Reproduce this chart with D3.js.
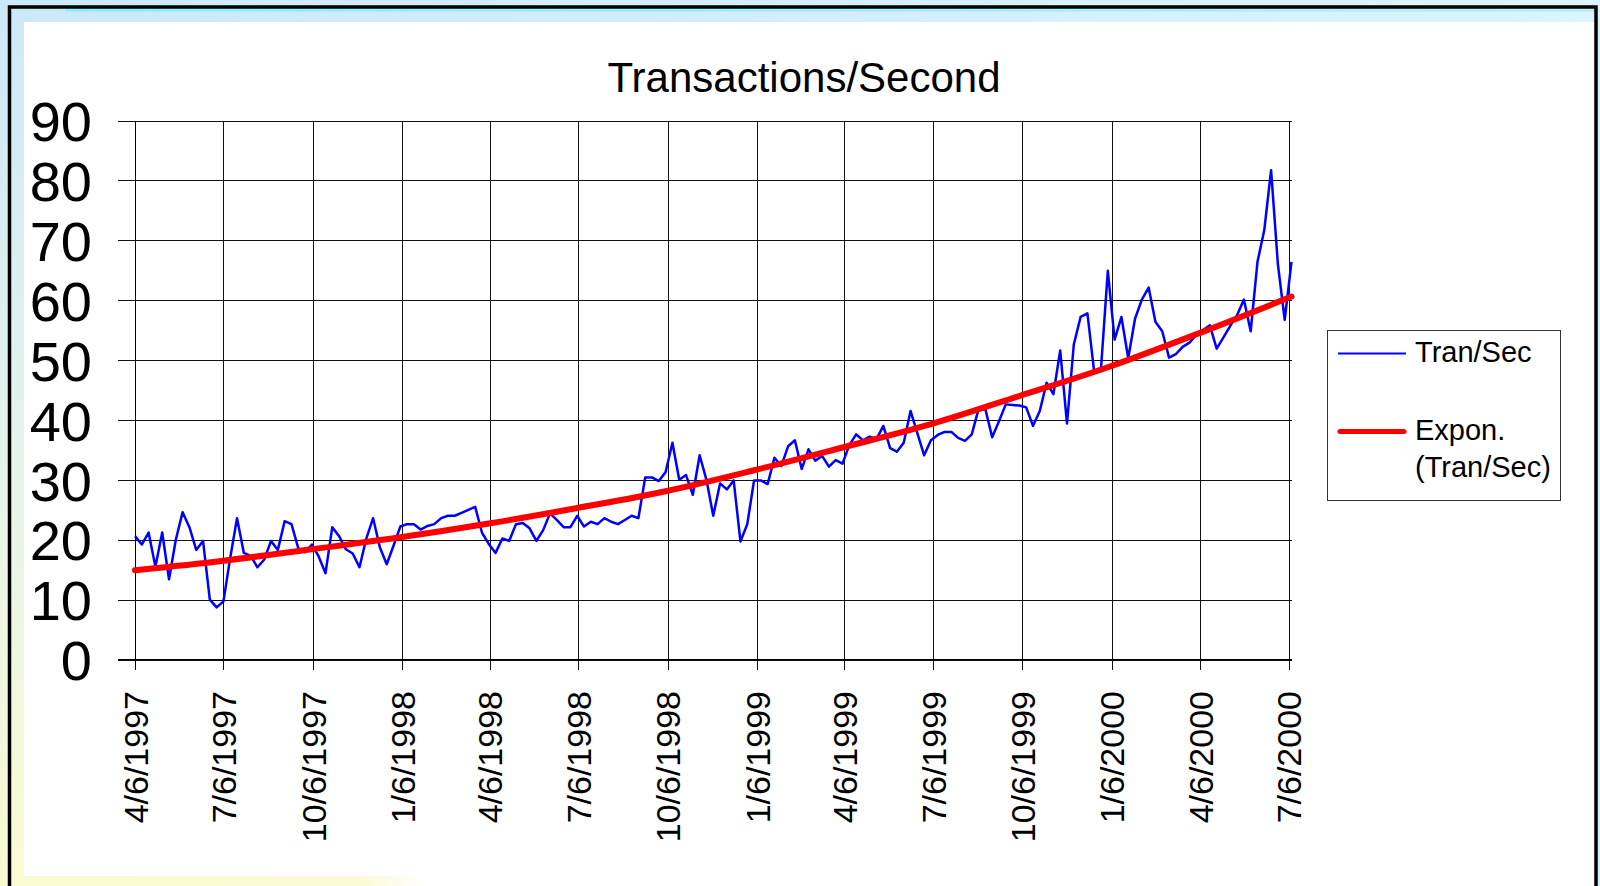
<!DOCTYPE html>
<html>
<head>
<meta charset="utf-8">
<script src="https://cdn.jsdelivr.net/npm/d3@7"></script>
<style>
  html, body { margin: 0; padding: 0; background: #fff; }
  svg { display: block; font-family: 'Liberation Sans', Arial, sans-serif; }
</style>
</head>
<body>
<script>
// weekly samples, first week 4/6/1997
var startLabel = '4/6/1997';
var tranSec = [
  20.6, 19.2, 21.2, 15.5, 21.2, 13.4, 20.0, 24.6, 22.1, 18.3,
  19.8, 10.0, 8.7, 9.7, 17.0, 23.6, 17.8, 17.3, 15.4, 16.7,
  19.8, 18.3, 23.1, 22.6, 18.6, 17.9, 19.2, 17.2, 14.4, 22.1,
  20.6, 18.4, 17.7, 15.4, 20.2, 23.6, 18.7, 15.9, 19.0, 22.2,
  22.6, 22.6, 21.7, 22.3, 22.6, 23.6, 24.0, 24.0, 24.5, 25.0,
  25.5, 21.2, 19.3, 17.8, 20.2, 19.8, 22.6, 22.8, 21.9, 19.8,
  21.6, 24.4, 23.3, 22.1, 22.1, 24.0, 22.2, 23.0, 22.6, 23.6,
  23.0, 22.6, 23.3, 24.0, 23.6, 30.4, 30.4, 29.8, 31.3, 36.2,
  30.0, 30.8, 27.5, 34.1, 30.0, 24.0, 29.4, 28.4, 29.9, 19.7,
  22.6, 29.9, 29.9, 29.3, 33.7, 32.3, 35.6, 36.6, 31.8, 35.1,
  33.2, 34.0, 32.2, 33.3, 32.7, 35.8, 37.6, 36.6, 37.2, 36.8,
  39.0, 35.3, 34.7, 36.2, 41.5, 37.8, 34.1, 36.6, 37.5, 38.0,
  38.0, 37.0, 36.5, 37.6, 41.8, 41.8, 37.1, 39.8, 42.6, 42.5,
  42.4, 42.1, 39.0, 41.5, 46.2, 44.3, 51.6, 39.4, 52.6, 57.2,
  57.8, 48.0, 48.6, 64.9, 53.4, 57.2, 50.3, 56.9, 60.1, 62.1,
  56.4, 54.8, 50.4, 51.0, 52.2, 52.9, 54.2, 55.0, 55.8, 51.9,
  53.8, 55.7, 57.5, 60.1, 54.8, 66.4, 71.7, 81.7, 66.0, 56.7,
  66.4
];
// exponential trend line, read at every 13th week
var trendWeek = [0, 13, 26, 39, 52, 65, 78, 91, 104, 117, 130, 143, 156, 170];
var trendValue = [14.9, 16.5, 18.4, 20.4, 22.7, 25.3, 28.1, 31.6, 35.4, 39.3, 44.0, 48.8, 54.3, 60.6];
var tickLabels = ['4/6/1997', '7/6/1997', '10/6/1997', '1/6/1998', '4/6/1998', '7/6/1998',
  '10/6/1998', '1/6/1999', '4/6/1999', '7/6/1999', '10/6/1999', '1/6/2000', '4/6/2000', '7/6/2000'];
var yTicks = [0, 10, 20, 30, 40, 50, 60, 70, 80, 90];

var parse = d3.timeParse('%m/%d/%Y');
var start = parse(startLabel);
var weeks = d3.timeWeek.every(1).range(start, d3.timeWeek.offset(start, tranSec.length));
var tickDates = tickLabels.map(parse);

var W = 1600, H = 886;
var plotL = 135, plotR = 1291.5, plotT = 120.5, plotB = 659.5;

var svg = d3.select('body').append('svg').attr('width', W).attr('height', H);

// slide background
var defs = svg.append('defs');
var g1 = defs.append('linearGradient').attr('id', 'side').attr('x1', 0).attr('y1', 0).attr('x2', 0).attr('y2', 1);
g1.append('stop').attr('offset', '0%').attr('stop-color', '#cde8f9');
g1.append('stop').attr('offset', '55%').attr('stop-color', '#e6f4ea');
g1.append('stop').attr('offset', '100%').attr('stop-color', '#fbfbd2');
var g2 = defs.append('linearGradient').attr('id', 'topband').attr('x1', 0).attr('y1', 0).attr('x2', 1).attr('y2', 0);
g2.append('stop').attr('offset', '0%').attr('stop-color', '#cde8f9');
g2.append('stop').attr('offset', '100%').attr('stop-color', '#dcf4fb');
var g3 = defs.append('linearGradient').attr('id', 'cyan').attr('x1', 0).attr('y1', 0).attr('x2', 1).attr('y2', 0);
g3.append('stop').attr('offset', '0%').attr('stop-color', '#8ef0f8');
g3.append('stop').attr('offset', '100%').attr('stop-color', '#b8f2f8');
var g4 = defs.append('linearGradient').attr('id', 'botband').attr('x1', 0).attr('y1', 0).attr('x2', 1).attr('y2', 0);
g4.append('stop').attr('offset', '0%').attr('stop-color', '#fbfbd2');
g4.append('stop').attr('offset', '85%').attr('stop-color', '#fbfbd6');
g4.append('stop').attr('offset', '100%').attr('stop-color', '#ffffff');

svg.append('rect').attr('x', 0).attr('y', 0).attr('width', W).attr('height', H).attr('fill', '#fff');
svg.append('rect').attr('x', 0).attr('y', 0).attr('width', 24).attr('height', H).attr('fill', 'url(#side)');
svg.append('rect').attr('x', 0).attr('y', 0).attr('width', W).attr('height', 22).attr('fill', 'url(#topband)');
svg.append('rect').attr('x', 65).attr('y', 9).attr('width', W - 65).attr('height', 3).attr('fill', 'url(#cyan)');
svg.append('rect').attr('x', 1597).attr('y', 0).attr('width', 3).attr('height', H).attr('fill', '#d6f3fb');
svg.append('rect').attr('x', 24).attr('y', 22).attr('width', 1571).attr('height', 854).attr('fill', '#fff');
svg.append('rect').attr('x', 24).attr('y', 876).attr('width', 400).attr('height', 10).attr('fill', 'url(#botband)');
svg.append('path')
  .attr('d', 'M9.5,' + H + 'V7H1596V' + H)
  .attr('fill', 'none')
  .attr('stroke', '#000')
  .attr('stroke-width', 3.5);

var x = d3.scaleTime()
  .domain([start, weeks[weeks.length - 1]])
  .range([plotL, plotR]);
var y = d3.scaleLinear().domain([0, 90]).range([plotB, plotT]);

// horizontal grid + y ticks
var yAxis = svg.append('g')
  .attr('transform', 'translate(118,0)')
  .call(d3.axisLeft(y).tickValues(yTicks).tickSizeInner(-(plotR - 118)).tickSizeOuter(0).tickPadding(26));
yAxis.select('.domain').remove();
yAxis.selectAll('line').attr('stroke', '#111').attr('shape-rendering', 'crispEdges');
yAxis.selectAll('text')
  .attr('font-size', 56)
  .attr('font-family', "'Liberation Sans', Arial, sans-serif")
  .attr('fill', '#000')
  .attr('dy', '0.36em');

// vertical grid + x ticks
var xAxis = svg.append('g')
  .attr('transform', 'translate(0,' + (plotB + 10) + ')')
  .call(d3.axisBottom(x).tickValues(tickDates).tickFormat(d3.timeFormat('%-m/%-d/%Y'))
    .tickSizeInner(-(plotB + 10 - plotT)).tickSizeOuter(0).tickPadding(0));
xAxis.select('.domain').remove();
xAxis.selectAll('line').attr('stroke', '#111').attr('shape-rendering', 'crispEdges');
xAxis.selectAll('text')
  .attr('font-size', 34)
  .attr('font-family', "'Liberation Sans', Arial, sans-serif")
  .attr('fill', '#000')
  .attr('transform', 'rotate(-90)')
  .attr('x', -21.5)
  .attr('y', 0)
  .attr('dy', '0.36em')
  .style('text-anchor', 'end');

// axis lines
svg.append('line')
  .attr('x1', plotL).attr('x2', plotL).attr('y1', plotT).attr('y2', plotB + 10)
  .attr('stroke', '#000').attr('shape-rendering', 'crispEdges');
svg.append('line')
  .attr('x1', 118).attr('x2', plotR).attr('y1', plotB).attr('y2', plotB)
  .attr('stroke', '#000').attr('shape-rendering', 'crispEdges');

// series
var line = d3.line()
  .x(function (d, i) { return x(weeks[i]); })
  .y(function (d) { return y(d); });
svg.append('path')
  .datum(tranSec)
  .attr('d', line)
  .attr('fill', 'none')
  .attr('stroke', '#0000ff')
  .attr('stroke-width', 2.5)
  .attr('stroke-linejoin', 'round');

var trendLine = d3.line()
  .x(function (d, i) { return x(weeks[trendWeek[i]]); })
  .y(function (d) { return y(d); })
  .curve(d3.curveMonotoneX);
svg.append('path')
  .datum(trendValue)
  .attr('d', trendLine)
  .attr('fill', 'none')
  .attr('stroke', '#ff0000')
  .attr('stroke-width', 6)
  .attr('stroke-linecap', 'round');

// title
svg.append('text')
  .attr('x', 804)
  .attr('y', 92)
  .attr('text-anchor', 'middle')
  .attr('font-size', 42)
  .text('Transactions/Second');

// legend
svg.append('rect')
  .attr('x', 1327.5).attr('y', 330.5).attr('width', 233).attr('height', 170)
  .attr('fill', '#fff').attr('stroke', '#333').attr('stroke-width', 1);
svg.append('line')
  .attr('x1', 1338).attr('x2', 1406).attr('y1', 353.5).attr('y2', 353.5)
  .attr('stroke', '#0000ff').attr('stroke-width', 2);
svg.append('text').attr('x', 1415).attr('y', 362).attr('font-size', 29).text('Tran/Sec');
svg.append('line')
  .attr('x1', 1340).attr('x2', 1404).attr('y1', 431.5).attr('y2', 431.5)
  .attr('stroke', '#ff0000').attr('stroke-width', 5).attr('stroke-linecap', 'round');
svg.append('text').attr('x', 1415).attr('y', 439.5).attr('font-size', 29).text('Expon.');
svg.append('text').attr('x', 1415).attr('y', 477).attr('font-size', 29).text('(Tran/Sec)');
</script>
</body>
</html>
